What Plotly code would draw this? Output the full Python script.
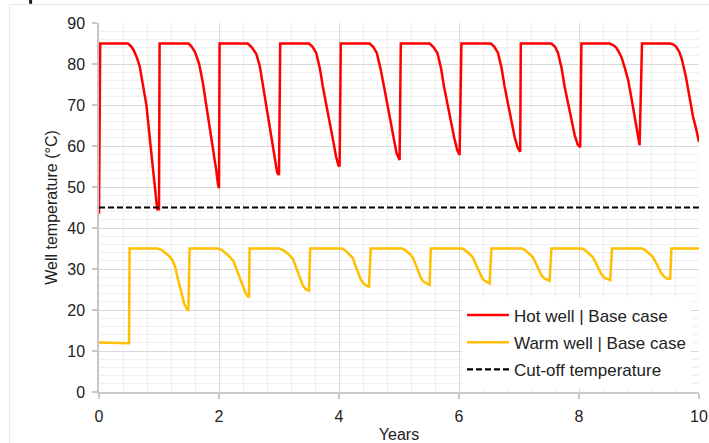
import plotly.graph_objects as go

# ---------------- data ----------------
hot_years = [
    0.00, 0.02, 0.48, 0.53, 0.58, 0.63, 0.68, 0.73, 0.79, 0.86, 0.93, 0.97, 1.00,
    1.01, 1.49, 1.54, 1.60, 1.67, 1.73, 1.79, 1.85, 1.90, 1.95, 1.985, 2.00,
    2.01, 2.48, 2.55, 2.62, 2.68, 2.73, 2.78, 2.83, 2.88, 2.93, 2.97, 3.00,
    3.02, 3.50, 3.56, 3.62, 3.68, 3.73, 3.79, 3.85, 3.90, 3.95, 3.99, 4.01,
    4.03, 4.51, 4.57, 4.63, 4.69, 4.75, 4.80, 4.85, 4.90, 4.96, 5.01,
    5.03, 5.51, 5.57, 5.64, 5.70, 5.75, 5.80, 5.86, 5.92, 5.97, 6.01,
    6.04, 6.53, 6.59, 6.65, 6.71, 6.76, 6.82, 6.87, 6.93, 6.98, 7.02,
    7.03, 7.54, 7.60, 7.65, 7.71, 7.76, 7.82, 7.87, 7.93, 7.98, 8.02,
    8.04, 8.51, 8.57, 8.62, 8.67, 8.71, 8.76, 8.82, 8.87, 8.93, 8.97, 9.01,
    9.05, 9.51, 9.57, 9.62, 9.67, 9.71, 9.78, 9.85, 9.90, 9.95, 10.00,
]
hot_temp = [
    43.5, 85.0, 85.0, 84.4, 83.3, 81.6, 79.3, 75.5, 70.0, 60.0, 50.0, 44.6, 44.6,
    85.0, 85.0, 84.3, 82.9, 80.0, 75.5, 70.0, 64.5, 60.0, 54.5, 50.5, 49.7,
    85.0, 85.0, 84.0, 82.5, 79.5, 75.0, 70.5, 66.0, 61.0, 56.5, 53.5, 52.9,
    85.0, 85.0, 84.2, 82.7, 79.0, 74.5, 70.0, 66.0, 61.5, 57.5, 55.3, 55.0,
    85.0, 85.0, 84.2, 82.7, 79.0, 74.5, 70.5, 66.4, 62.5, 58.2, 56.6,
    85.0, 85.0, 84.2, 82.7, 79.0, 74.5, 70.5, 66.4, 62.0, 59.0, 57.8,
    85.0, 85.0, 84.2, 82.7, 79.0, 74.5, 70.5, 66.4, 62.0, 59.5, 58.6,
    85.0, 85.0, 84.2, 82.7, 79.0, 74.5, 70.2, 66.4, 62.5, 60.3, 59.7,
    85.0, 85.0, 84.6, 84.0, 82.8, 81.6, 79.2, 76.0, 72.0, 67.2, 63.3, 60.2,
    85.0, 85.0, 84.8, 84.2, 83.0, 81.4, 77.0, 71.3, 67.2, 64.3, 61.0,
]

warm_years = [
    0.00, 0.50,
    0.51, 0.97, 1.05, 1.10, 1.18, 1.23, 1.27, 1.32, 1.37, 1.42, 1.47, 1.49,
    1.51, 1.98, 2.05, 2.15, 2.24, 2.29, 2.34, 2.40, 2.44, 2.48, 2.50,
    2.51, 3.00, 3.07, 3.16, 3.23, 3.28, 3.32, 3.36, 3.40, 3.45, 3.50,
    3.52, 4.05, 4.10, 4.17, 4.23, 4.28, 4.32, 4.36, 4.40, 4.45, 4.50,
    4.53, 5.05, 5.10, 5.17, 5.23, 5.28, 5.32, 5.36, 5.40, 5.46, 5.51,
    5.53, 6.05, 6.10, 6.17, 6.23, 6.28, 6.32, 6.37, 6.41, 6.46, 6.51,
    6.54, 7.05, 7.10, 7.17, 7.23, 7.28, 7.33, 7.37, 7.42, 7.47, 7.51,
    7.54, 8.05, 8.10, 8.17, 8.23, 8.28, 8.33, 8.37, 8.42, 8.47, 8.52,
    8.55, 9.05, 9.10, 9.17, 9.23, 9.28, 9.33, 9.37, 9.42, 9.47, 9.52,
    9.54, 10.00,
]
warm_temp = [
    12.1, 11.9,
    35.0, 35.0, 34.6, 34.0, 33.0, 32.0, 30.5, 27.3, 24.2, 21.5, 20.1, 20.0,
    35.0, 35.0, 34.6, 33.4, 32.0, 30.2, 28.3, 25.8, 24.3, 23.3, 23.2,
    35.0, 35.0, 34.6, 33.6, 32.5, 30.6, 28.9, 27.2, 25.9, 25.0, 24.7,
    35.0, 35.0, 34.6, 33.7, 32.7, 30.6, 28.9, 27.6, 26.6, 26.0, 25.7,
    35.0, 35.0, 34.6, 33.8, 32.8, 31.0, 29.3, 28.0, 27.0, 26.4, 26.1,
    35.0, 35.0, 34.6, 33.8, 32.8, 31.2, 29.7, 28.3, 27.3, 26.8, 26.5,
    35.0, 35.0, 34.6, 33.8, 32.9, 31.4, 29.8, 28.6, 27.7, 27.3, 27.1,
    35.0, 35.0, 34.6, 33.8, 32.9, 31.5, 30.0, 28.8, 27.9, 27.5, 27.3,
    35.0, 35.0, 34.6, 33.8, 33.0, 31.6, 30.1, 29.0, 28.1, 27.7, 27.6,
    35.0, 35.0,
]

cutoff_years = [0.0, 10.0]
cutoff_temp = [45.0, 45.0]

series_names = ["Hot well | Base case", "Warm well | Base case", "Cut-off temperature"]
x_title = "Years"
y_title = "Well temperature (°C)"

# ---------------- figure ----------------
FONT = "Liberation Sans, Arial, sans-serif"
TXT = "#222222"

fig = go.Figure()
fig.add_trace(go.Scatter(x=hot_years, y=hot_temp, mode="lines", name=series_names[0],
                         line=dict(color="#FF0000", width=2.5), legendgroup="a"))
fig.add_trace(go.Scatter(x=warm_years, y=warm_temp, mode="lines", name=series_names[1],
                         line=dict(color="#FFC000", width=2.5), legendgroup="b"))
fig.add_trace(go.Scatter(x=cutoff_years, y=cutoff_temp, mode="lines", name=series_names[2],
                         line=dict(color="#000000", width=2.2, dash="6px,3px"), legendgroup="c"))

axis_common = dict(
    showline=True, linecolor="#c8c8c8", linewidth=1.5,
    ticks="outside", ticklen=5, tickcolor="#c8c8c8", tickwidth=1.5,
    showgrid=True, gridcolor="#d9d9d9", gridwidth=1.3,
    zeroline=False,
    tickfont=dict(family=FONT, size=16, color=TXT),
    ticklabelstandoff=4,
)

fig.update_xaxes(range=[0, 10], dtick=2, tick0=0,
                 minor=dict(dtick=0.4, showgrid=True, gridcolor="#efefef", gridwidth=1),
                 title=dict(text=x_title, font=dict(family=FONT, size=16, color=TXT), standoff=6),
                 **axis_common)
fig.update_yaxes(range=[0, 90], dtick=10, tick0=0,
                 minor=dict(dtick=2, showgrid=True, gridcolor="#efefef", gridwidth=1),
                 title=dict(text=y_title, font=dict(family=FONT, size=16, color=TXT), standoff=6),
                 **axis_common)

fig.update_layout(
    width=709, height=443,
    margin=dict(l=99, r=10, t=23, b=51, autoexpand=False),
    paper_bgcolor="white", plot_bgcolor="white",
    showlegend=True,
    legend=dict(x=0.605, y=0.256, xanchor="left", yanchor="top",
                bgcolor="white", borderwidth=0, itemwidth=42,
                font=dict(family=FONT, size=17, color=TXT),
                traceorder="grouped", tracegroupgap=2),
    shapes=[
        dict(type="line", xref="paper", yref="paper", x0=-0.149, x1=-0.149, y0=-0.2, y1=1.05,
             line=dict(color="#e6e6e6", width=1)),
        dict(type="line", xref="paper", yref="paper", x0=-0.149, x1=1.1, y0=1.05, y1=1.05,
             line=dict(color="#e6e6e6", width=1)),
        dict(type="line", xref="paper", yref="paper", x0=-0.114, x1=-0.114, y0=1.052, y1=1.07,
             line=dict(color="#222222", width=3)),
    ],
)

fig.write_html("out.html")
